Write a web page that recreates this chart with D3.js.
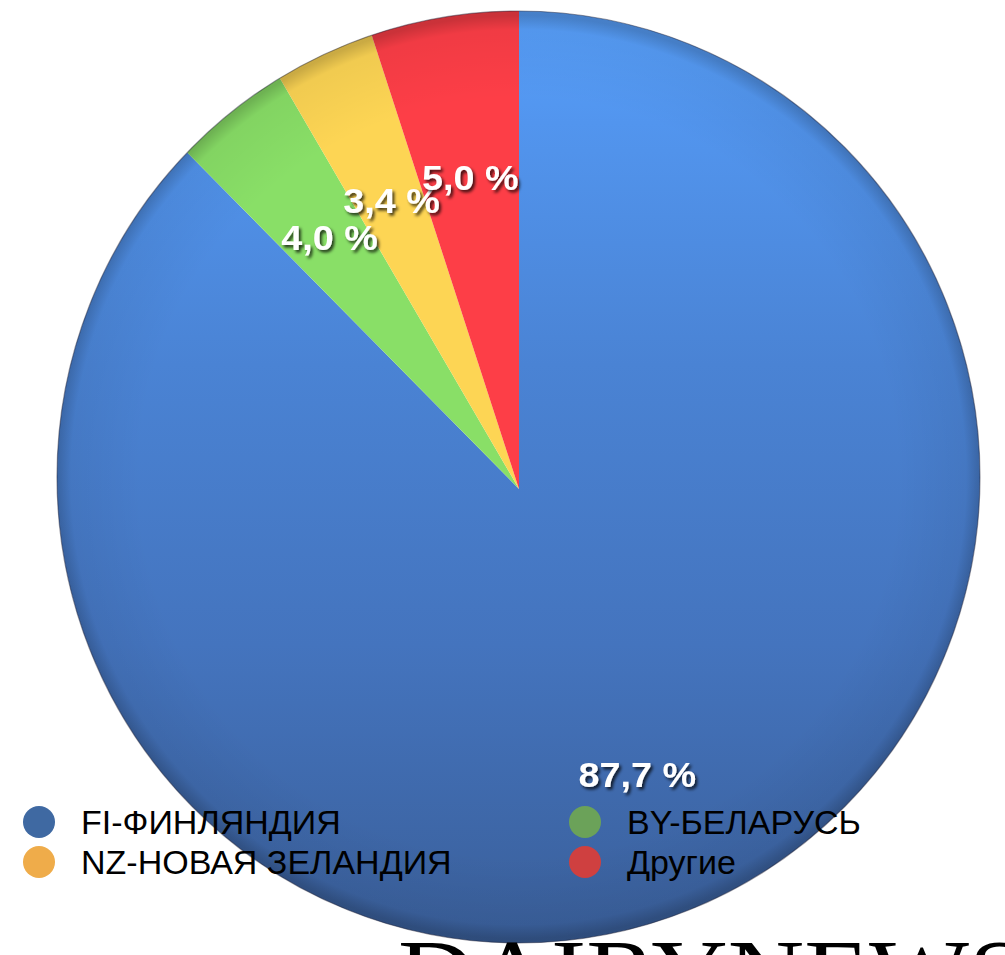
<!DOCTYPE html>
<html>
<head>
<meta charset="utf-8">
<script src="https://cdn.jsdelivr.net/npm/d3@7"></script>
<style>
  html, body { margin: 0; padding: 0; background: #ffffff; }
  svg { display: block; }
</style>
</head>
<body>
<svg id="chart" width="1005" height="955"></svg>
<script>
// Import shares by country of origin
const categories = ["FI-ФИНЛЯНДИЯ", "BY-БЕЛАРУСЬ", "NZ-НОВАЯ ЗЕЛАНДИЯ", "Другие"];
const shares = [87.7, 4.0, 3.4, 5.0];
const shareLabels = ["87,7 %", "4,0 %", "3,4 %", "5,0 %"];
const sliceColors = ["url(#blueFill)", "#89df67", "#fdd554", "#fd3e47"];
const legendColors = ["#3f69a2", "#6ba259", "#efac4a", "#cf4040"];
// legend layout: two columns, two rows
const legendOrder = [0, 2, 1, 3];

const svg = d3.select("#chart");
const defs = svg.append("defs");

// Pie geometry: slices radiate from the apex; the disc outline is a slightly tilted ellipse
const apex = { x: 519, y: 489 };
const disc = { cx: 518.5, cy: 477, rx: 461.5, ry: 466 };

// gradient coordinates are in the slice group's space (origin at the apex)
const blue = defs.append("linearGradient").attr("id", "blueFill")
  .attr("gradientUnits", "userSpaceOnUse")
  .attr("x1", 0).attr("y1", disc.cy - disc.ry - apex.y)
  .attr("x2", 0).attr("y2", disc.cy + disc.ry - apex.y);
blue.append("stop").attr("offset", "0%").attr("stop-color", "#58a0fb");
blue.append("stop").attr("offset", "12%").attr("stop-color", "#5295ee");
blue.append("stop").attr("offset", "38%").attr("stop-color", "#4a83d4");
blue.append("stop").attr("offset", "68%").attr("stop-color", "#4474be");
blue.append("stop").attr("offset", "100%").attr("stop-color", "#3a5f9a");

const rim = defs.append("radialGradient").attr("id", "rimShade")
  .attr("gradientUnits", "userSpaceOnUse")
  .attr("cx", disc.cx).attr("cy", disc.cy).attr("r", disc.rx);
rim.append("stop").attr("offset", "82%").attr("stop-color", "#000").attr("stop-opacity", 0);
rim.append("stop").attr("offset", "97%").attr("stop-color", "#000").attr("stop-opacity", 0.05);
rim.append("stop").attr("offset", "100%").attr("stop-color", "#000").attr("stop-opacity", 0.2);

defs.append("clipPath").attr("id", "discClip")
  .append("ellipse")
  .attr("cx", disc.cx).attr("cy", disc.cy).attr("rx", disc.rx).attr("ry", disc.ry);

const shadow = defs.append("filter").attr("id", "labelShadow")
  .attr("x", "-20%").attr("y", "-30%").attr("width", "140%").attr("height", "160%");
shadow.append("feDropShadow").attr("dx", 2).attr("dy", 2.5).attr("stdDeviation", 1.6)
  .attr("flood-color", "#000").attr("flood-opacity", 0.75);

const pie = d3.pie().sort(null).value(d => d)(shares);
const arc = d3.arc().innerRadius(0).outerRadius(520);
const labelArc = d3.arc().innerRadius(312).outerRadius(312);

const pieG = svg.append("g").attr("clip-path", "url(#discClip)");
const sliceG = pieG.append("g").attr("transform", `translate(${apex.x},${apex.y})`);
sliceG.selectAll("path")
  .data(pie)
  .join("path")
  .attr("d", arc)
  .attr("fill", (d, i) => sliceColors[i]);

// darkened rim and thin outline of the disc
pieG.append("ellipse")
  .attr("cx", disc.cx).attr("cy", disc.cy).attr("rx", disc.rx + 2).attr("ry", disc.ry + 2)
  .attr("fill", "url(#rimShade)");
svg.append("ellipse")
  .attr("cx", disc.cx).attr("cy", disc.cy).attr("rx", disc.rx).attr("ry", disc.ry)
  .attr("fill", "none").attr("stroke", "rgba(30,30,50,0.45)").attr("stroke-width", 1.2);

// value labels
const labelG = svg.append("g").attr("transform", `translate(${apex.x},${apex.y})`);
labelG.selectAll("text")
  .data(pie)
  .join("text")
  .attr("transform", d => {
    const [x, y] = labelArc.centroid(d);
    return `translate(${x},${y - 3}) scale(1.08,1)`;
  })
  .attr("text-anchor", "middle")
  .attr("dominant-baseline", "central")
  .attr("font-family", "Liberation Sans, Arial, sans-serif")
  .attr("font-weight", "bold")
  .attr("font-size", 35)
  .attr("fill", "#ffffff")
  .attr("filter", "url(#labelShadow)")
  .text((d, i) => shareLabels[i]);

// legend
const legendX = d3.scaleOrdinal().domain([0, 1]).range([39, 585]);
const legendY = d3.scaleOrdinal().domain([0, 1]).range([822, 862]);
const legend = svg.append("g");
const items = legend.selectAll("g")
  .data(legendOrder.map((c, k) => ({ c, col: Math.floor(k / 2), row: k % 2 })))
  .join("g")
  .attr("transform", d => `translate(${legendX(d.col)},${legendY(d.row)})`);
items.append("circle").attr("r", 16).attr("fill", d => legendColors[d.c]);
items.append("text")
  .attr("x", 42).attr("y", 12)
  .attr("font-family", "Liberation Sans, Arial, sans-serif")
  .attr("font-size", 34)
  .attr("fill", "#000")
  .text(d => categories[d.c]);

// masthead lettering along the bottom edge
svg.append("text")
  .attr("x", 398).attr("y", 1006)
  .attr("font-family", "Liberation Serif, Times New Roman, serif")
  .attr("font-size", 96)
  .attr("textLength", 630)
  .attr("lengthAdjust", "spacingAndGlyphs")
  .attr("fill", "#000")
  .text("DAIRYNEWS");
</script>
</body>
</html>
